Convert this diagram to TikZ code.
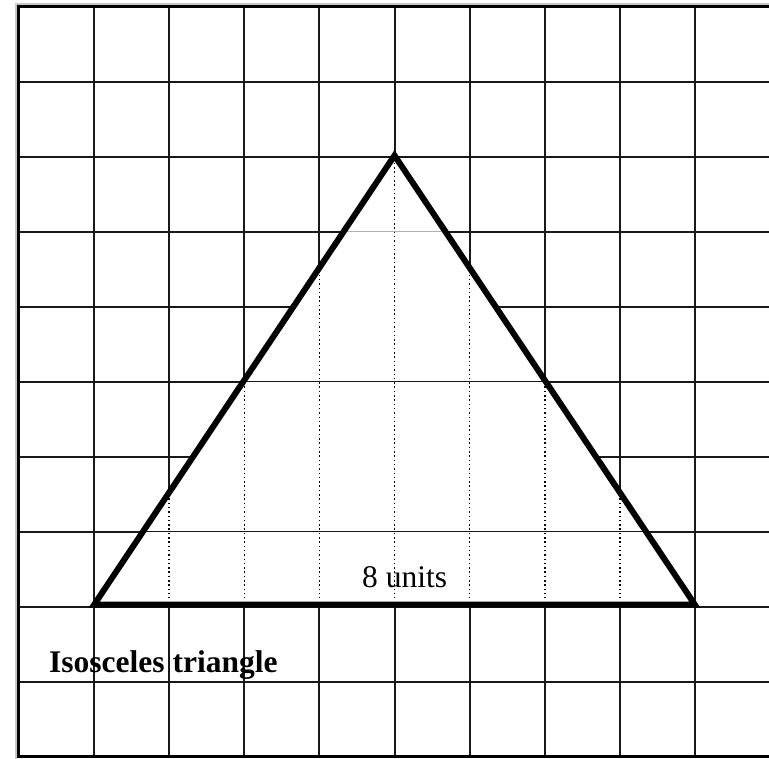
\documentclass[tikz,border=0pt]{standalone}
\usepackage{fontspec}
\setmainfont{Liberation Serif}
\begin{document}
\begin{tikzpicture}[x=1pt,y=-1pt,
  gridline/.style={line width=2pt,color=black!90},
  border/.style={line width=3pt,color=black},
  outerline/.style={line width=2pt,color=black!22},
  innerline/.style={line width=1pt,color=black!90},
  faintline/.style={line width=1pt,color=black!30},
  dotline/.style={line width=1.6pt,color=black,dash pattern=on 1.5pt off 2.8pt},
  tri/.style={line width=6pt,color=black,line join=miter},
  lbl/.style={inner sep=0pt,anchor=base west,font=\fontsize{31.5}{36}\selectfont}]
\useasboundingbox (0,0) rectangle (769,759);
\fill[white] (0,0) rectangle (769,759);
% outer light frame
\draw[outerline] (15.5,759) -- (15.5,3.8) -- (769,3.8);
% grid
\foreach \i in {1,...,9}
  \draw[gridline] ({19+75.1*\i},6.5) -- ({19+75.1*\i},757);
\foreach \j in {1,...,9}
  \draw[gridline] (19,{6.5+75.05*\j}) -- (769,{6.5+75.05*\j});
% borders
\draw[border] (18.5,757.5) -- (18.5,6.2) -- (769,6.2);
\draw[border] (17,756.7) -- (769,756.7);
% triangle
\coordinate (A) at (94.1,604.7);
\coordinate (B) at (694.9,604.7);
\coordinate (C) at (394.5,155.5);
\fill[white] (A) -- (B) -- (C) -- cycle;
\begin{scope}
  \clip (A) -- (B) -- (C) -- cycle;
  \draw[faintline] (19,231.65) -- (769,231.65);
  \draw[innerline] (19,381.75) -- (769,381.75);
  \draw[innerline] (19,531.85) -- (769,531.85);
  \foreach \i in {1,...,8}
    \draw[dotline] ({19+75.1*\i},150) -- ({19+75.1*\i},598);
\end{scope}
\draw[tri] (A) -- (B) -- (C) -- cycle;
% labels
\node[lbl] (units) at (362,587) {8 units};
\node[lbl,font=\fontsize{31.5}{36}\selectfont\bfseries] (name) at (49,672) {Isosceles triangle};
\end{tikzpicture}
\end{document}
